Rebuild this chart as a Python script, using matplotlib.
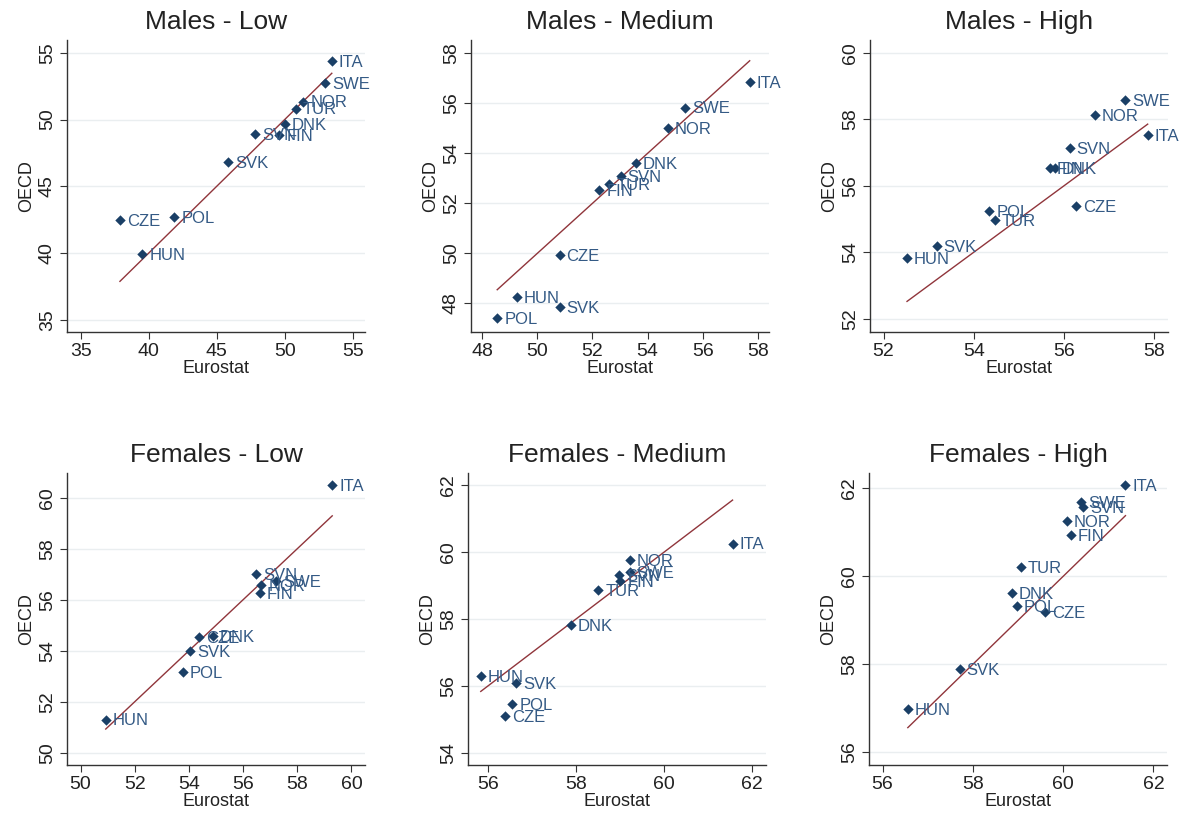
import matplotlib

matplotlib.use("Agg")
import matplotlib.pyplot as plt
from matplotlib.ticker import MultipleLocator

plt.rcParams["font.family"] = ["Liberation Sans", "DejaVu Sans"]

NAVY = "#1a3f66"
LABEL_COLOR = "#345a85"
LINE_COLOR = "#90353b"
GRID_COLOR = "#eaeef0"

# Males - Low
ml_country = ["ITA", "SWE", "NOR", "TUR", "DNK", "FIN", "SVN", "SVK", "POL", "CZE", "HUN"]
ml_eurostat = [53.46, 52.99, 51.37, 50.83, 50.02, 49.61, 47.82, 45.86, 41.89, 37.89, 39.53]
ml_oecd = [54.38, 52.76, 51.34, 50.82, 49.68, 48.86, 48.93, 46.79, 42.69, 42.46, 39.95]

# Males - Medium
mm_country = ["ITA", "SWE", "NOR", "DNK", "SVN", "TUR", "FIN", "CZE", "HUN", "SVK", "POL"]
mm_eurostat = [57.70, 55.37, 54.74, 53.58, 53.03, 52.61, 52.25, 50.81, 49.25, 50.81, 48.55]
mm_oecd = [56.85, 55.83, 55.02, 53.60, 53.11, 52.78, 52.53, 49.93, 48.26, 47.87, 47.40]

# Males - High
mh_country = ["SWE", "NOR", "ITA", "SVN", "FIN", "DNK", "CZE", "POL", "TUR", "SVK", "HUN"]
mh_eurostat = [57.35, 56.68, 57.85, 56.12, 55.68, 55.79, 56.27, 54.34, 54.46, 53.18, 52.52]
mh_oecd = [58.58, 58.13, 57.53, 57.13, 56.54, 56.52, 55.39, 55.24, 54.97, 54.19, 53.83]

# Females - Low
fl_country = ["ITA", "SVN", "SWE", "NOR", "FIN", "CZE", "DNK", "SVK", "POL", "HUN"]
fl_eurostat = [59.29, 56.49, 57.22, 56.67, 56.61, 54.37, 54.89, 54.05, 53.78, 50.93]
fl_oecd = [60.50, 56.99, 56.73, 56.56, 56.26, 54.53, 54.59, 53.98, 53.18, 51.30]

# Females - Medium
fm_country = ["ITA", "NOR", "SVN", "SWE", "FIN", "TUR", "DNK", "HUN", "SVK", "POL", "CZE"]
fm_eurostat = [61.55, 59.21, 58.97, 59.21, 59.00, 58.50, 57.87, 55.83, 56.63, 56.55, 56.38]
fm_oecd = [60.25, 59.75, 59.32, 59.40, 59.12, 58.85, 57.82, 56.28, 56.07, 55.45, 55.10]

# Females - High
fh_country = ["ITA", "SWE", "SVN", "NOR", "FIN", "TUR", "DNK", "POL", "CZE", "SVK", "HUN"]
fh_eurostat = [61.38, 60.40, 60.44, 60.08, 60.17, 59.07, 58.87, 58.98, 59.60, 57.71, 56.56]
fh_oecd = [62.08, 61.68, 61.58, 61.25, 60.94, 60.21, 59.62, 59.32, 59.19, 57.90, 56.98]

titles = ["Males - Low", "Males - Medium", "Males - High",
          "Females - Low", "Females - Medium", "Females - High"]

# per panel: (left px, top px, xlim, ylim, xstep, ystep)
panels = [
    (ml_country, ml_eurostat, ml_oecd, 67, 40, (34.0, 55.9), (34.1, 55.95), 5, 5),
    (mm_country, mm_eurostat, mm_oecd, 471, 40, (47.6, 58.4), (46.86, 58.53), 2, 2),
    (mh_country, mh_eurostat, mh_oecd, 870, 40, (51.7, 58.3), (51.6, 60.38), 2, 2),
    (fl_country, fl_eurostat, fl_oecd, 67, 473, (49.5, 60.5), (49.52, 60.97), 2, 2),
    (fm_country, fm_eurostat, fm_oecd, 468, 473, (55.54, 62.31), (53.63, 62.36), 2, 2),
    (fh_country, fh_eurostat, fh_oecd, 869, 473, (55.7, 62.3), (55.71, 62.35), 2, 2),
]

W, H = 1189, 825
fig = plt.figure(figsize=(W / 100, H / 100), dpi=100)

for title, (names, xs, ys, left, top, xlim, ylim, xstep, ystep) in zip(titles, panels):
    ax = fig.add_axes([left / W, (H - top - 292) / H, 298 / W, 292 / H])
    ax.set_xlim(*xlim)
    ax.set_ylim(*ylim)
    ax.xaxis.set_major_locator(MultipleLocator(xstep))
    ax.yaxis.set_major_locator(MultipleLocator(ystep))
    ax.grid(axis="y", color=GRID_COLOR, lw=1.0)
    ax.set_axisbelow(True)

    lo, hi = min(xs), max(xs)
    ax.plot([lo, hi], [lo, hi], color=LINE_COLOR, lw=1.0, zorder=2)
    ax.scatter(xs, ys, marker="D", s=28, color=NAVY, zorder=3, linewidths=0)
    for name, x, y in zip(names, xs, ys):
        ax.annotate(name, (x, y), xytext=(5, -1), textcoords="offset points",
                    va="center", ha="left", fontsize=12, color=LABEL_COLOR, zorder=4)

    for side in ("top", "right"):
        ax.spines[side].set_visible(False)
    for side in ("left", "bottom"):
        ax.spines[side].set_color("#333333")
        ax.spines[side].set_linewidth(1.0)
    ax.tick_params(direction="out", length=5, color="#333333", labelsize=14,
                   labelcolor="#222222", pad=3)
    plt.setp(ax.get_yticklabels(), rotation=90, va="center")
    ax.set_title(title, fontsize=19, pad=8, color="#222222")
    ax.set_xlabel("Eurostat", fontsize=13, labelpad=0, color="#222222")
    ax.set_ylabel("OECD", fontsize=13, labelpad=3, color="#222222")

fig.savefig("out.png", dpi=100, facecolor="white")
